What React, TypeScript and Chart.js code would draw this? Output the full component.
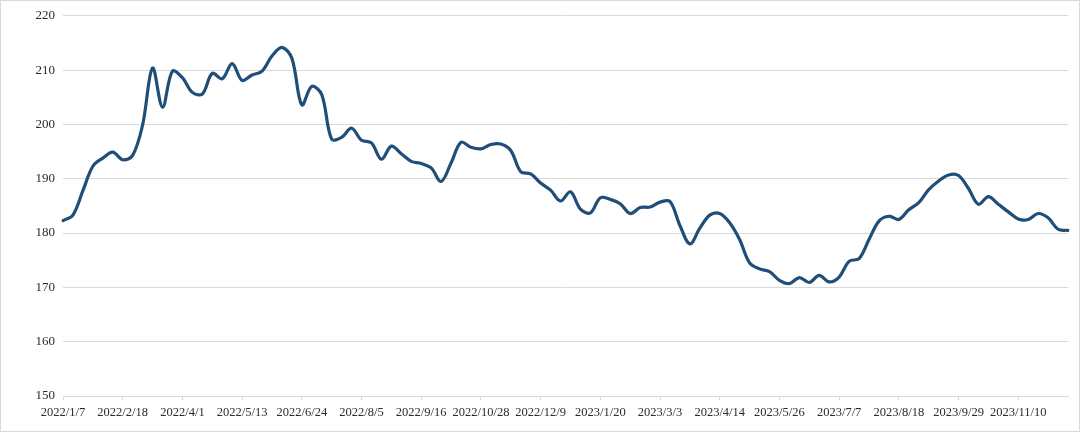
import React, { useEffect, useRef } from "react";
import { Chart, registerables } from "chart.js";

Chart.register(...registerables);

// Weekly series starting 2022/1/7
const startYear = 2022;
const startMonthIndex = 0;
const startDay = 7;
const pointCount = 102;

const categories: string[] = Array.from({ length: pointCount }, (_, i) => {
  const d = new Date(Date.UTC(startYear, startMonthIndex, startDay + 7 * i));
  return `${d.getUTCFullYear()}/${d.getUTCMonth() + 1}/${d.getUTCDate()}`;
});

const seriesValues: number[] = [
  182.3, 183.3, 187.8, 192.3, 193.8, 194.9, 193.5, 194.3, 199.9, 210.4,
  203.2, 209.8, 208.6, 205.9, 205.6, 209.4, 208.4, 211.2, 208.1, 209.1,
  209.8, 212.6, 214.2, 212.2, 203.6, 207.0, 205.5, 197.3, 197.6, 199.3,
  197.1, 196.6, 193.6, 196.0, 194.6, 193.2, 192.8, 192.0, 189.5, 192.9,
  196.7, 195.8, 195.5, 196.3, 196.4, 195.2, 191.3, 190.9, 189.2, 187.9,
  185.9, 187.6, 184.4, 183.7, 186.5, 186.2, 185.4, 183.6, 184.7, 184.8,
  185.7, 185.8, 181.4, 178.0, 180.9, 183.3, 183.6, 181.9, 178.8, 174.5,
  173.4, 172.9, 171.3, 170.7, 171.8, 170.9, 172.2, 171.0, 171.9, 174.8,
  175.3, 178.8, 182.2, 183.1, 182.5, 184.3, 185.6, 188.0, 189.6, 190.7,
  190.6, 188.2, 185.3, 186.7, 185.3, 183.9, 182.6, 182.5, 183.6, 182.8,
  180.7, 180.5,
];

const xTickLabels: string[] = [
  "2022/1/7", "2022/2/18", "2022/4/1", "2022/5/13", "2022/6/24", "2022/8/5",
  "2022/9/16", "2022/10/28", "2022/12/9", "2023/1/20", "2023/3/3", "2023/4/14",
  "2023/5/26", "2023/7/7", "2023/8/18", "2023/9/29", "2023/11/10",
];

const yMin = 150;
const yMax = 220;
const yStep = 10;

const FONT = "'Liberation Serif', 'Times New Roman', serif";
const TEXT_COLOR = "#2b2b2b";
const GRID_COLOR = "#d9d9d9";
const LINE_COLOR = "#1F4E79";

export default function App() {
  const canvasRef = useRef<HTMLCanvasElement | null>(null);

  useEffect(() => {
    const canvas = canvasRef.current;
    if (!canvas) return;
    const chart = new Chart(canvas, {
      type: "line",
      data: {
        labels: categories,
        datasets: [
          {
            data: seriesValues,
            borderColor: LINE_COLOR,
            borderWidth: 3.2,
            pointRadius: 0,
            pointHoverRadius: 0,
            tension: 0.35,
            fill: false,
            borderCapStyle: "round",
            borderJoinStyle: "round",
          },
        ],
      },
      options: {
        animation: false,
        responsive: false,
        maintainAspectRatio: false,
        devicePixelRatio: 1,
        layout: { padding: { left: 0, right: 12, top: 15, bottom: 0 } },
        plugins: {
          legend: { display: false },
          tooltip: { enabled: false },
          title: { display: false },
        },
        scales: {
          x: {
            type: "category",
            offset: false,
            grid: {
              drawOnChartArea: false,
              drawTicks: true,
              tickLength: 4,
              lineWidth: 1,
              color: (ctx: any) => {
                const lbl = categories[ctx.index];
                return xTickLabels.includes(lbl) ? GRID_COLOR : "rgba(0,0,0,0)";
              },
            },
            border: { display: true, color: GRID_COLOR, width: 1 },
            ticks: {
              autoSkip: false,
              maxRotation: 0,
              minRotation: 0,
              padding: 5,
              color: TEXT_COLOR,
              font: { family: FONT, size: 12.5 },
              callback: (_v: any, index: number) => {
                const lbl = categories[index];
                return xTickLabels.includes(lbl) ? lbl : "";
              },
            },
            afterFit: (scale: any) => {
              scale.height = 36;
            },
          },
          y: {
            min: yMin,
            max: yMax,
            grid: {
              color: GRID_COLOR,
              lineWidth: 1,
              drawTicks: false,
            },
            border: { display: false },
            ticks: {
              stepSize: yStep,
              padding: 8,
              color: TEXT_COLOR,
              font: { family: FONT, size: 13 },
            },
            afterFit: (scale: any) => {
              scale.width = 63;
            },
          },
        },
      },
    });
    return () => chart.destroy();
  }, []);

  return (
    <div
      style={{
        position: "fixed",
        left: 0,
        top: 0,
        width: 1080,
        height: 432,
        background: "#ffffff",
      }}
    >
      <canvas
        ref={canvasRef}
        width={1080}
        height={432}
        style={{ position: "absolute", left: 0, top: 0, width: 1080, height: 432 }}
      />
      <div
        style={{
          position: "absolute",
          left: 0,
          top: 0,
          width: 1080,
          height: 432,
          boxSizing: "border-box",
          border: "1px solid #d9d9d9",
          pointerEvents: "none",
        }}
      />
    </div>
  );
}
